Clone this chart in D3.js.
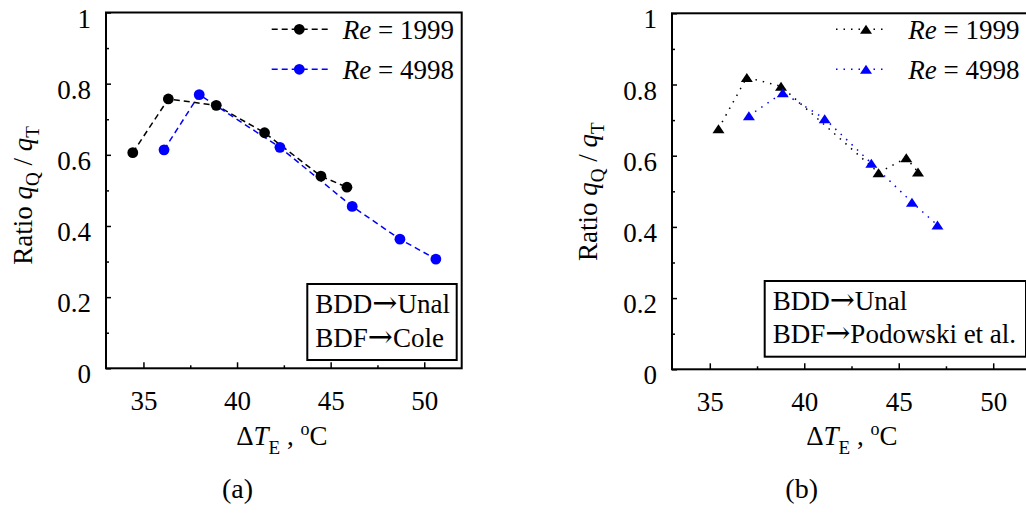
<!DOCTYPE html>
<html>
<head>
<meta charset="utf-8">
<script src="https://cdn.jsdelivr.net/npm/d3@7"></script>
<style>
  html, body { margin: 0; padding: 0; background: #fff; }
  svg { display: block; }
</style>
</head>
<body>
<svg id="fig" width="1026" height="515"></svg>
<script>
// Ratio of quenching to total heat flux versus wall superheat, two Reynolds numbers.
// Panel (a): circles, dashed lines. Panel (b): triangles, dotted lines.
const xMajorTicks = [35, 40, 45, 50];
const xMinorTicks = [37.5, 42.5, 47.5];
const yMajorTicks = [0, 0.2, 0.4, 0.6, 0.8, 1];
const yMinorTicks = [0.1, 0.3, 0.5, 0.7, 0.9];
const seriesNames = ["1999", "4998"];
const seriesColors = ["#000000", "#0000ff"];

// Panel (a): BDD -> Unal, BDF -> Cole
const a1999X = [34.43, 36.33, 38.89, 41.47, 44.48, 45.87];
const a1999Y = [0.606, 0.757, 0.739, 0.662, 0.540, 0.509];
const a4998X = [36.10, 37.98, 42.29, 46.15, 48.70, 50.62];
const a4998Y = [0.614, 0.769, 0.621, 0.455, 0.363, 0.307];

// Panel (b): BDD -> Unal, BDF -> Podowski et al.
const b1999X = [35.46, 36.96, 38.77, 43.93, 45.40, 46.02];
const b1999Y = [0.676, 0.820, 0.795, 0.552, 0.594, 0.554];
const b4998X = [37.07, 38.86, 41.08, 43.55, 45.70, 47.05];
const b4998Y = [0.712, 0.777, 0.704, 0.579, 0.469, 0.405];

// annotation lines: [model for BDD, model for BDF]
const notesA = [["BDD", "Unal"], ["BDF", "Cole"]];
const notesB = [["BDD", "Unal"], ["BDF", "Podowski et al."]];

const SERIF = "Liberation Serif";
const svg = d3.select("#fig").attr("font-family", SERIF);
const FS = 27;
const SUB = 19;

function zip(xs, ys) { return xs.map((x, i) => [x, ys[i]]); }

function txt(parent) {
  return parent.append("text").attr("font-family", SERIF).attr("font-size", FS).attr("fill", "#000");
}

function panel(opt) {
  const g = svg.append("g");
  const x = d3.scaleLinear().domain([33, 52]).range([opt.left, opt.right]);
  const y = d3.scaleLinear().domain([0, 1]).range([opt.bottom, opt.top]);

  // minor ticks
  g.append("g").attr("transform", `translate(0,${opt.bottom})`)
    .call(d3.axisBottom(x).tickValues(xMinorTicks).tickSize(-3).tickFormat(""))
    .call(s => s.select(".domain").remove());
  g.append("g").attr("transform", `translate(${opt.left},0)`)
    .call(d3.axisLeft(y).tickValues(yMinorTicks).tickSize(-3).tickFormat(""))
    .call(s => s.select(".domain").remove());

  // major ticks with labels
  const xa = g.append("g").attr("transform", `translate(0,${opt.bottom})`)
    .call(d3.axisBottom(x).tickValues(xMajorTicks).tickSize(-6).tickPadding(22.5).tickFormat(d3.format("d")));
  xa.select(".domain").remove();
  const ya = g.append("g").attr("transform", `translate(${opt.left},0)`)
    .call(d3.axisLeft(y).tickValues(yMajorTicks).tickSize(-5).tickPadding(15)
      .tickFormat(d => d === 0 || d === 1 ? String(d) : d3.format(".1f")(d)));
  ya.select(".domain").remove();
  g.selectAll("g").attr("font-family", SERIF).attr("font-size", FS);
  g.selectAll(".tick line").attr("stroke", "#000").attr("stroke-width", 1.5);
  g.selectAll(".tick text").attr("font-family", SERIF).attr("font-size", FS).attr("fill", "#000");
  ya.selectAll(".tick text").attr("dy", "0.54em");

  // frame
  g.append("rect")
    .attr("x", opt.left).attr("y", opt.top)
    .attr("width", opt.right - opt.left).attr("height", opt.bottom - opt.top)
    .attr("fill", "none").attr("stroke", "#000").attr("stroke-width", 2);

  // series
  const line = d3.line().x(d => x(d[0])).y(d => y(d[1]));
  const tri = "M0,-4.5L6,4.5L-6,4.5Z";
  opt.series.forEach((s, i) => {
    g.append("path").datum(s)
      .attr("d", line).attr("fill", "none")
      .attr("stroke", seriesColors[i]).attr("stroke-width", 1.5)
      .attr("stroke-dasharray", opt.dash);
  });
  opt.series.forEach((s, i) => {
    if (opt.marker === "circle") {
      g.selectAll(null).data(s).join("circle")
        .attr("cx", d => x(d[0])).attr("cy", d => y(d[1])).attr("r", 5.4)
        .attr("fill", seriesColors[i]);
    } else {
      g.selectAll(null).data(s).join("path")
        .attr("transform", d => `translate(${x(d[0])},${y(d[1])})`)
        .attr("d", tri).attr("fill", seriesColors[i]);
    }
  });

  // legend
  seriesNames.forEach((name, i) => {
    const ly = opt.legY[i];
    g.append("line")
      .attr("x1", opt.legLine[0]).attr("x2", opt.legLine[1])
      .attr("y1", ly).attr("y2", ly)
      .attr("stroke", seriesColors[i]).attr("stroke-width", 1.5)
      .attr("stroke-dasharray", opt.dash);
    if (opt.marker === "circle") {
      g.append("circle").attr("cx", opt.legMark).attr("cy", ly).attr("r", 5.4).attr("fill", seriesColors[i]);
    } else {
      g.append("path").attr("transform", `translate(${opt.legMark},${ly})`).attr("d", tri).attr("fill", seriesColors[i]);
    }
    const t = txt(g).attr("x", opt.legText).attr("y", ly + 10);
    t.append("tspan").attr("font-style", "italic").text("Re");
    t.append("tspan").text(" = " + name);
  });

  // annotation box
  g.append("rect")
    .attr("x", opt.note.x).attr("y", opt.note.y)
    .attr("width", opt.note.w).attr("height", opt.note.h)
    .attr("fill", "#fff").attr("stroke", "#000").attr("stroke-width", 2);
  opt.note.lines.forEach((pair, i) => {
    const t = txt(g).attr("x", opt.note.x + 8).attr("y", opt.note.base[i]);
    t.append("tspan").text(pair[0]);
    t.append("tspan").attr("font-family", "DejaVu Serif").attr("font-size", 30).text("\u2192");
    t.append("tspan").text(pair[1]);
  });

  // x title: ΔT_E , °C
  const xt = txt(g).attr("x", opt.xTitleX).attr("y", 445).attr("text-anchor", "middle");
  xt.append("tspan").text("\u0394");
  xt.append("tspan").attr("font-style", "italic").text("T");
  xt.append("tspan").attr("font-size", SUB).attr("dy", 9).text("E");
  xt.append("tspan").attr("dy", -9).text(" , ");
  xt.append("tspan").attr("font-size", 18).attr("dy", -10).text("o");
  xt.append("tspan").attr("dy", 10).text("C");

  // y title: Ratio q_Q / q_T
  const yt = txt(g)
    .attr("transform", `translate(${opt.yTitleX},${opt.yTitleY}) rotate(-90)`)
    .attr("text-anchor", "middle");
  yt.append("tspan").text("Ratio ");
  yt.append("tspan").attr("font-style", "italic").text("q");
  yt.append("tspan").attr("font-size", SUB).attr("dy", 7).text("Q");
  yt.append("tspan").attr("dy", -7).text(" / ");
  yt.append("tspan").attr("font-style", "italic").text("q");
  yt.append("tspan").attr("font-size", SUB).attr("dy", 7).text("T");

  // panel tag
  txt(g).attr("x", opt.tagX).attr("y", 498).attr("text-anchor", "middle")
    .attr("font-size", 28).text(opt.tag);
}

panel({
  left: 106, right: 461.7, top: 12.5, bottom: 368.3,
  series: [zip(a1999X, a1999Y), zip(a4998X, a4998Y)],
  marker: "circle", dash: "6,4",
  legY: [29.3, 69.3], legLine: [271.7, 328], legMark: 299.3, legText: 342.7,
  note: { x: 307.3, y: 284, w: 149.4, h: 76, base: [313.3, 346.7], lines: notesA },
  xTitleX: 281.8, yTitleX: 32, yTitleY: 195.5, tagX: 237.5, tag: "(a)"
});

panel({
  left: 672, right: 1031, top: 13.3, bottom: 369.3,
  series: [zip(b1999X, b1999Y), zip(b4998X, b4998Y)],
  marker: "triangle", dash: "1.5,6",
  legY: [29.3, 69.3], legLine: [836, 888.3], legMark: 866, legText: 908.3,
  note: { x: 764.7, y: 281, w: 261.3, h: 75.7, base: [310, 343.3], lines: notesB },
  xTitleX: 851.8, yTitleX: 597.3, yTitleY: 191.7, tagX: 801.7, tag: "(b)"
});
</script>
</body>
</html>
